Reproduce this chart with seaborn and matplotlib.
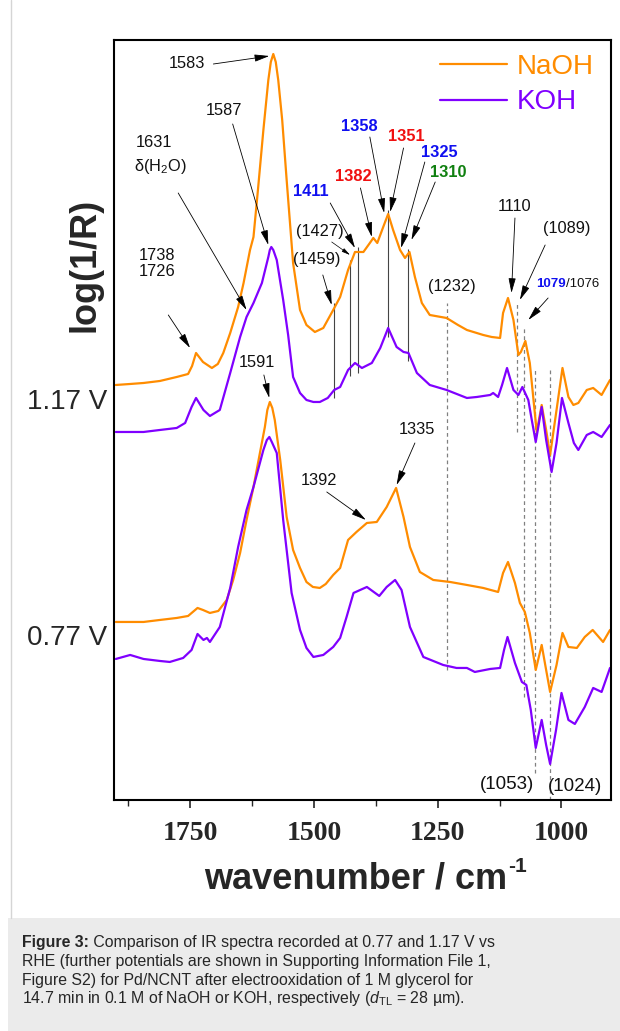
import numpy as np
import pandas as pd
import matplotlib
matplotlib.use("Agg")
import matplotlib.pyplot as plt
from matplotlib.patches import Rectangle
from matplotlib.lines import Line2D
import seaborn as sns

# ---------------- data (wavenumber / cm-1, log(1/R) arbitrary offset units) -------------
wn_naoh_117 = [1900, 1871, 1844, 1811, 1777, 1754, 1746, 1738, 1724, 1706, 1694, 1683, 1669, 1653,
               1642, 1629, 1622, 1613, 1602, 1592, 1587, 1582, 1577, 1572, 1564, 1555, 1542, 1528,
               1515, 1498, 1481, 1461, 1447, 1431, 1417, 1400, 1387, 1380, 1372, 1360, 1350, 1340,
               1326, 1316, 1307, 1296, 1282, 1266, 1232, 1209, 1191, 1158, 1141, 1124, 1118, 1108,
               1097, 1087, 1082, 1073, 1064, 1050, 1040, 1031, 1023, 1010, 998, 986, 976, 966, 949,
               936, 919, 902]
ab_naoh_117 = [4.15, 4.16, 4.17, 4.19, 4.23, 4.26, 4.34, 4.47, 4.38, 4.32, 4.36, 4.47, 4.67, 4.93,
               5.17, 5.50, 5.63, 6.10, 6.70, 7.20, 7.38, 7.46, 7.38, 7.20, 6.80, 6.20, 5.37, 4.90,
               4.75, 4.68, 4.72, 4.90, 5.03, 5.30, 5.48, 5.48, 5.57, 5.62, 5.57, 5.73, 5.86, 5.70,
               5.50, 5.42, 5.48, 5.23, 4.97, 4.85, 4.82, 4.75, 4.70, 4.65, 4.63, 4.62, 4.87, 5.02,
               4.80, 4.45, 4.48, 4.59, 4.37, 3.68, 3.95, 3.70, 3.45, 3.90, 4.32, 4.03, 3.95, 3.97,
               4.10, 4.12, 4.05, 4.20]

wn_koh_117 = [1900, 1871, 1844, 1811, 1777, 1760, 1747, 1738, 1723, 1710, 1690, 1669, 1649, 1636,
              1622, 1605, 1592, 1589, 1586, 1582, 1575, 1562, 1552, 1542, 1528, 1515, 1501, 1488,
              1472, 1459, 1447, 1431, 1417, 1403, 1395, 1383, 1366, 1350, 1333, 1319, 1309, 1292,
              1266, 1232, 1191, 1171, 1144, 1138, 1128, 1120, 1110, 1097, 1087, 1079, 1067, 1060,
              1052, 1040, 1031, 1020, 1010, 999, 986, 975, 966, 949, 936, 919, 902]
ab_koh_117 = [3.68, 3.68, 3.68, 3.70, 3.72, 3.77, 3.93, 4.02, 3.90, 3.84, 3.90, 4.27, 4.63, 4.83,
              4.97, 5.17, 5.43, 5.50, 5.53, 5.50, 5.40, 5.00, 4.65, 4.23, 4.07, 4.00, 3.98, 3.98,
              4.02, 4.10, 4.13, 4.30, 4.37, 4.32, 4.34, 4.37, 4.52, 4.72, 4.53, 4.48, 4.47, 4.27,
              4.15, 4.10, 4.02, 4.03, 4.05, 4.07, 4.03, 4.15, 4.32, 4.10, 4.05, 4.13, 4.00, 3.80,
              3.58, 3.93, 3.60, 3.28, 3.57, 4.02, 3.77, 3.57, 3.50, 3.65, 3.68, 3.63, 3.75]

wn_naoh_077 = [1900, 1871, 1844, 1811, 1777, 1754, 1735, 1724, 1710, 1693, 1676, 1663, 1649, 1636,
               1622, 1609, 1599, 1594, 1589, 1584, 1579, 1568, 1555, 1542, 1528, 1515, 1502, 1488,
               1476, 1461, 1447, 1431, 1414, 1393, 1373, 1353, 1334, 1319, 1306, 1286, 1259, 1225,
               1191, 1158, 1128, 1118, 1108, 1094, 1084, 1074, 1064, 1052, 1040, 1031, 1023, 1010,
               998, 986, 969, 953, 937, 916, 902]
ab_naoh_077 = [1.78, 1.78, 1.78, 1.80, 1.82, 1.84, 1.92, 1.90, 1.87, 1.89, 2.00, 2.20, 2.47, 2.80,
               3.13, 3.47, 3.73, 3.90, 3.98, 3.92, 3.80, 3.40, 2.83, 2.50, 2.32, 2.18, 2.13, 2.12,
               2.16, 2.25, 2.32, 2.60, 2.68, 2.77, 2.78, 2.93, 3.12, 2.83, 2.53, 2.28, 2.20, 2.18,
               2.15, 2.12, 2.08, 2.27, 2.38, 2.17, 1.97, 1.88, 1.67, 1.30, 1.55, 1.30, 1.08, 1.35,
               1.67, 1.53, 1.52, 1.63, 1.70, 1.58, 1.70]

wn_koh_077 = [1900, 1871, 1844, 1811, 1791, 1764, 1747, 1735, 1723, 1716, 1710, 1690, 1669, 1653,
              1636, 1622, 1602, 1595, 1590, 1585, 1575, 1562, 1545, 1528, 1515, 1501, 1481, 1461,
              1447, 1434, 1420, 1393, 1368, 1353, 1336, 1323, 1306, 1279, 1239, 1212, 1191, 1175,
              1144, 1124, 1116, 1109, 1094, 1080, 1071, 1062, 1052, 1040, 1031, 1023, 1011, 1000,
              986, 973, 953, 936, 919, 902]
ab_koh_077 = [1.41, 1.45, 1.41, 1.39, 1.38, 1.42, 1.50, 1.66, 1.60, 1.62, 1.58, 1.73, 2.12, 2.53,
              2.90, 3.13, 3.50, 3.60, 3.63, 3.58, 3.47, 2.80, 2.07, 1.70, 1.52, 1.43, 1.45, 1.53,
              1.62, 1.83, 2.07, 2.13, 2.04, 2.13, 2.20, 2.10, 1.73, 1.43, 1.35, 1.32, 1.32, 1.28,
              1.31, 1.32, 1.50, 1.63, 1.37, 1.18, 1.15, 0.90, 0.52, 0.80, 0.55, 0.36, 0.70, 1.07,
              0.80, 0.76, 0.93, 1.12, 1.08, 1.32]

electrolytes = ["NaOH", "KOH"]
potential_labels = ["1.17 V", "0.77 V"]
x_ticks = [1750, 1500, 1250, 1000]

solid_marks = [1459, 1427, 1411, 1351, 1310]
dash_marks = [1232, 1089, 1076, 1053, 1024]
dash_top = [4.97, 4.98, 4.72, 4.32, 4.30]
dash_bottom = [1.30, 3.68, 1.03, 0.27, 0.0]

# ---------------- style -------------
sns.set_style("ticks")
plt.rcParams["font.family"] = ["Liberation Sans", "DejaVu Sans"]
plt.rcParams["mathtext.fontset"] = "custom"
plt.rcParams["mathtext.rm"] = "Liberation Sans"
plt.rcParams["mathtext.it"] = "Liberation Sans:italic"
plt.rcParams["mathtext.bf"] = "Liberation Sans:bold"

ORANGE = "#FF8C00"
PURPLE = "#8000FF"
colors = {"NaOH": ORANGE, "KOH": PURPLE}
LW = 1.6

fig = plt.figure(figsize=(6.2, 10.31), dpi=100)
ax = fig.add_axes([0.1844, 0.2241, 0.8011, 0.7371])

curves = [
    ("NaOH", wn_naoh_117, ab_naoh_117),
    ("KOH", wn_koh_117, ab_koh_117),
    ("NaOH", wn_naoh_077, ab_naoh_077),
    ("KOH", wn_koh_077, ab_koh_077),
]
frames = []
for i, (el, wn, ab) in enumerate(curves):
    frames.append(pd.DataFrame({"wn": wn, "ab": ab, "el": el, "curve": i}))
df = pd.concat(frames, ignore_index=True)

for i, (el, wn, ab) in enumerate(curves):
    sub = df[df["curve"] == i]
    sns.lineplot(data=sub, x="wn", y="ab", color=colors[el], lw=LW, estimator=None,
                 sort=False, ax=ax, legend=False)

ax.set_xlim(1903, 900)
ax.set_ylim(0, 7.6)
ax.set_xlabel("")
ax.set_ylabel("")
ax.set_yticks([])
ax.set_xticks(x_ticks)
ax.set_xticks([1875, 1625, 1375, 1125], minor=True)
ax.tick_params(axis="x", which="major", direction="out", length=6, width=1.2, pad=9)
ax.tick_params(axis="x", which="minor", direction="out", length=4, width=1.0)
for lab in ax.get_xticklabels():
    lab.set_fontfamily("Liberation Serif")
    lab.set_fontweight("bold")
    lab.set_fontsize(20)
for sp in ax.spines.values():
    sp.set_visible(True)
    sp.set_linewidth(1.5)
    sp.set_color("black")

# vertical solid marker lines spanning between NaOH and KOH 1.17 V spectra
wn_o = np.array(wn_naoh_117)[::-1]; ab_o = np.array(ab_naoh_117)[::-1]
wn_p = np.array(wn_koh_117)[::-1]; ab_p = np.array(ab_koh_117)[::-1]
for m in solid_marks:
    top = np.interp(m, wn_o, ab_o) + 0.05
    bot = np.interp(m, wn_p, ab_p) - 0.08
    ax.vlines(m, bot, top, color="#444444", lw=0.8, zorder=1)
for m, t, b in zip(dash_marks, dash_top, dash_bottom):
    ax.vlines(m, b, t, color="#808080", lw=0.9, linestyles=(0, (3, 2.5)), zorder=1)

# annotations
def arrow(tail, tip):
    ax.annotate("", xy=tip, xytext=tail,
                arrowprops=dict(arrowstyle="-|>,head_length=0.9,head_width=0.22",
                                color="black", lw=0.6, shrinkA=0, shrinkB=0))

def label(x, y, s, color="#111111", bold=False, size=11.8, ha="center"):
    ax.text(x, y, s, color=color, fontsize=size, ha=ha, va="center",
            fontweight="bold" if bold else "normal")

label(1757, 7.37, "1583"); arrow((1703, 7.36), (1590, 7.44))
label(1681, 6.89, "1587"); arrow((1664, 6.76), (1592, 5.55))
label(1824, 6.57, "1631"); label(1811, 6.33, "δ(H$_2$O)")
arrow((1774, 6.07), (1636, 4.90))
label(1817, 5.44, "1738"); label(1817, 5.28, "1726")
arrow((1794, 4.85), (1750, 4.52))
label(1506, 6.08, "1411", color="#1010F0", bold=True); arrow((1467, 5.97), (1417, 5.52))
label(1420, 6.23, "1382", color="#F01010", bold=True); arrow((1406, 6.12), (1383, 5.63))
label(1408, 6.73, "1358", color="#1010F0", bold=True); arrow((1387, 6.63), (1358, 5.87))
label(1313, 6.63, "1351", color="#F01010", bold=True); arrow((1319, 6.52), (1346, 5.88))
label(1247, 6.47, "1325", color="#1010F0", bold=True); arrow((1276, 6.38), (1324, 5.52))
label(1229, 6.27, "1310", color="#108010", bold=True); arrow((1255, 6.18), (1303, 5.60))
label(1488, 5.68, "(1427)")
ax.annotate("", xy=(1427, 5.45), xytext=(1464, 5.58),
            arrowprops=dict(arrowstyle="-|>,head_length=0.5,head_width=0.12",
                            color="black", lw=0.5, shrinkA=0, shrinkB=0))
label(1494, 5.40, "(1459)"); arrow((1482, 5.25), (1464, 4.95))
label(1222, 5.13, "(1232)")
label(1094, 5.93, "1110"); arrow((1094, 5.82), (1101, 5.07))
label(990, 5.71, "(1089)"); arrow((1033, 5.55), (1084, 5.00))
label(991, 5.16, "1079", color="#1010F0", bold=True, size=9.5, ha="right")
label(991, 5.16, "/1076", size=9.5, ha="left")
arrow((1027, 5.02), (1067, 4.80))
label(1615, 4.37, "1591"); arrow((1601, 4.25), (1590, 4.02))
label(1489, 3.19, "1392"); arrow((1474, 3.08), (1395, 2.80))
label(1292, 3.70, "1335"); arrow((1296, 3.57), (1333, 3.15))
label(1111, 0.15, "(1053)", size=13.5)
label(973, 0.13, "(1024)", size=13.5)

# legend
handles = [Line2D([], [], color=colors[e], lw=LW) for e in electrolytes]
leg = ax.legend(handles, electrolytes, loc="upper right", bbox_to_anchor=(0.993, 1.0),
                frameon=False, fontsize=20, handlelength=2.4, handletextpad=0.35,
                labelspacing=0.34, borderpad=0, labelcolor="linecolor")

# axis labels and potential labels
fig.text(0.137, 0.743, "log(1/R)", rotation=90, ha="center", va="center",
         fontsize=26, fontweight="bold")
fig.text(0.1726, 0.610, potential_labels[0], ha="right", va="center", fontsize=20)
fig.text(0.1726, 0.381, potential_labels[1], ha="right", va="center", fontsize=20)

fig.canvas.draw()
r = fig.canvas.get_renderer()
W, H = fig.bbox.width, fig.bbox.height

# x label with small hyphen superscript, centred at the axes centre
xl_y = 1 - 879 / 1031
xl = fig.text(0, xl_y, "wavenumber / cm", ha="left", va="center", fontsize=26, fontweight="bold")
sup = fig.text(0, xl_y, "-1", ha="left", va="baseline", fontsize=15, fontweight="bold")
wm = xl.get_window_extent(renderer=r).width
ws = sup.get_window_extent(renderer=r).width
x0 = (365 - (wm + ws) / 2) / W
xl.set_x(x0)
sup.set_position((x0 + (wm + 1) / W, xl_y + 7 / H))

# page decorations and caption
fig.add_artist(Line2D([11 / 620, 11 / 620], [1 - 918 / 1031, 1.0], color="#D5D5D5", lw=1.0))
fig.add_artist(Rectangle((8 / 620, 0), 1 - 8 / 620, 1 - 918 / 1031, transform=fig.transFigure,
                         facecolor="#EBEBEB", edgecolor="none", zorder=0))
cap_size = 11.4
cx = 21.7 / 620
ys = [1 - 943 / 1031, 1 - 961.5 / 1031, 1 - 980 / 1031, 1 - 998.5 / 1031]
t0 = fig.text(cx, ys[0], "Figure 3:", fontsize=cap_size, fontweight="bold", va="center")
bb = t0.get_window_extent(renderer=r)
fig.text(bb.x1 / W, ys[0], " Comparison of IR spectra recorded at 0.77 and 1.17 V vs",
         fontsize=cap_size, va="center")
fig.text(cx, ys[1], "RHE (further potentials are shown in Supporting Information File 1,",
         fontsize=cap_size, va="center")
fig.text(cx, ys[2], "Figure S2) for Pd/NCNT after electrooxidation of 1 M glycerol for",
         fontsize=cap_size, va="center")
fig.text(cx, ys[3], r"14.7 min in 0.1 M of NaOH or KOH, respectively ($d_{\mathrm{TL}}$ = 28 µm).",
         fontsize=cap_size, va="center")

fig.savefig("out.png", dpi=100)
